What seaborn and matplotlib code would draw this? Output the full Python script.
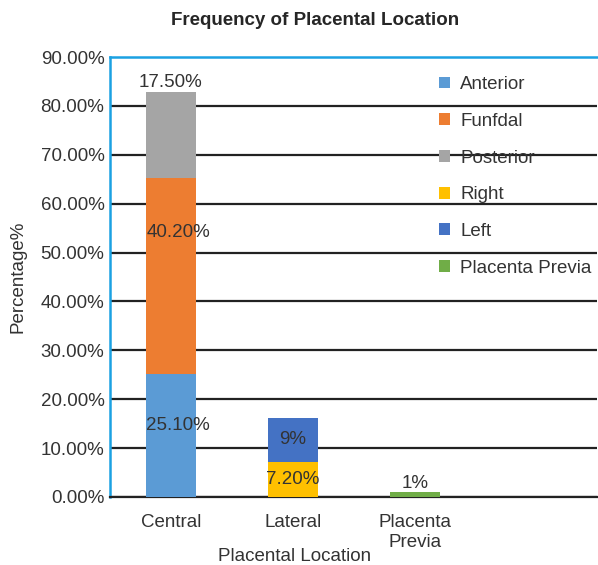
import pandas as pd
import matplotlib
matplotlib.use("Agg")
import matplotlib.pyplot as plt
import seaborn as sns
from matplotlib.patches import Patch
from matplotlib.ticker import FuncFormatter

# Datos
categorias = ["Central", "Lateral", "Placenta\nPrevia"]
segmentos = ["Anterior", "Funfdal", "Posterior", "Right", "Left", "Placenta Previa"]
segmento_cat = ["Central", "Central", "Central", "Lateral", "Lateral", "Placenta\nPrevia"]
valores = [25.10, 40.20, 17.50, 7.20, 9.0, 1.0]
etiquetas = ["25.10%", "40.20%", "17.50%", "7.20%", "9%", "1%"]
colores = ["#5B9BD5", "#ED7D31", "#A5A5A5", "#FFC000", "#4472C4", "#70AD47"]

df = pd.DataFrame({"categoria": segmento_cat, "segmento": segmentos, "valor": valores})
df["base"] = df.groupby("categoria", sort=False)["valor"].cumsum() - df["valor"]

sns.set_style("white")
plt.rcParams["font.family"] = ["Liberation Sans", "DejaVu Sans"]

fig = plt.figure(figsize=(5.98, 5.65), dpi=100)
ax = fig.add_axes([0.184, 0.1204, 0.815, 0.7786])

for i, fila in df.iterrows():
    sns.barplot(
        x=[fila["categoria"]],
        y=[fila["valor"]],
        order=categorias + [" "],
        bottom=fila["base"],
        color=colores[i],
        width=0.41,
        saturation=1,
        edgecolor="none",
        linewidth=0,
        ax=ax,
        zorder=3,
    )

# etiquetas de valores
for i, fila in df.iterrows():
    xpos = categorias.index(fila["categoria"])
    if fila["segmento"] == "Posterior":
        y = fila["base"] + fila["valor"] + 2.0
        xoff = 0
    elif fila["segmento"] == "Placenta Previa":
        y = fila["base"] + fila["valor"] + 1.8
        xoff = 0
    elif fila["segmento"] == "Funfdal":
        y = fila["base"] + fila["valor"] * 0.72
        xoff = 0.06
    elif fila["segmento"] == "Anterior":
        y = fila["base"] + fila["valor"] * 0.58
        xoff = 0.06
    else:
        y = fila["base"] + fila["valor"] / 2
        xoff = 0
    ax.text(xpos + xoff, y, etiquetas[i], ha="center", va="center",
            fontsize=13.5, color="#333333", zorder=4)

ax.set_xlim(-0.5, 3.5)
ax.set_ylim(0, 90)
ax.set_yticks(range(0, 91, 10))
ax.yaxis.set_major_formatter(FuncFormatter(lambda v, p: f"{v:.2f}%"))
ax.set_xticks(range(3))
ax.set_xticklabels(categorias, linespacing=1.25)
ax.tick_params(axis="both", labelsize=13.5, colors="#333333", length=0)
ax.tick_params(axis="x", pad=12)
ax.tick_params(axis="y", pad=4)

for yv in range(0, 81, 10):
    ax.axhline(yv, color="#222222", linewidth=1.6, zorder=1)

for lado in ["left", "top"]:
    ax.spines[lado].set_color("#1BA1E2")
    ax.spines[lado].set_linewidth(1.8)
ax.spines["right"].set_visible(False)
ax.spines["bottom"].set_color("#222222")
ax.spines["bottom"].set_linewidth(1.6)

ax.set_xlabel("Placental Location", fontsize=13.5, color="#333333", labelpad=2)
ax.xaxis.set_label_coords(0.379, -0.115)
ax.set_ylabel("Percentage%", fontsize=13.5, color="#333333", labelpad=10)
fig.suptitle("Frequency of Placental Location", fontsize=13.5, fontweight="bold",
             x=0.527, y=0.979)

handles = [Patch(facecolor=c, edgecolor="none") for c in colores]
ax.legend(handles, segmentos, loc="upper left", bbox_to_anchor=(0.64, 0.995),
          frameon=False, fontsize=13.5, handlelength=0.6, handleheight=0.6,
          handletextpad=0.55, labelspacing=1.05, labelcolor="#333333")

fig.savefig("out.png", dpi=100)
